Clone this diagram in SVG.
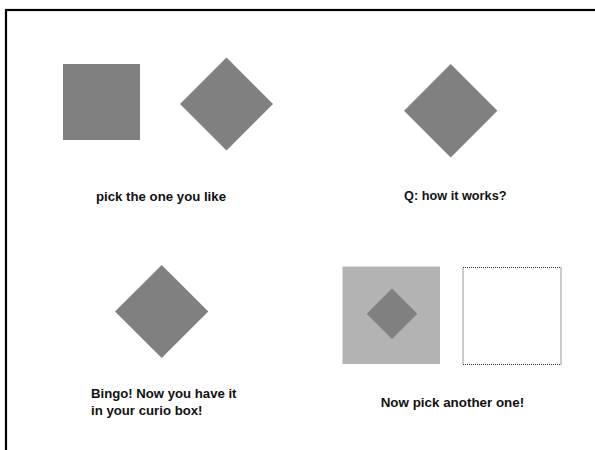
<svg xmlns="http://www.w3.org/2000/svg" width="595" height="450" viewBox="0 0 595 450">
<style>
.shape{fill:#808080}
.light{fill:#b3b3b3}
.lbl{font-family:"Liberation Sans",Arial,sans-serif;font-weight:bold;font-size:12.5px;fill:#111}
</style>
<rect x="0" y="0" width="595" height="450" fill="#fff"/>
<rect x="6" y="10" width="600" height="450" fill="none" stroke="#000" stroke-width="2.2"/>
<g id="square1"><rect class="shape" x="63" y="64" width="77" height="76"/></g>
<g id="diamond1"><polygon class="shape" points="226.5,57.5 273,104 226.5,150.5 180,104"/></g>
<g id="label1"><text class="lbl" x="96" y="200.5" textLength="130" lengthAdjust="spacingAndGlyphs">pick the one you like</text></g>
<g id="diamond2"><polygon class="shape" points="450.7,64 497.4,110.7 450.7,157.4 404,110.7"/></g>
<g id="label2"><text class="lbl" x="404" y="199.5" textLength="102.5" lengthAdjust="spacingAndGlyphs">Q: how it works?</text></g>
<g id="diamond3"><polygon class="shape" points="161.7,265 208.3,311.5 161.7,358 115,311.5"/></g>
<g id="label3"><text class="lbl" x="91" y="398.3" textLength="145.5" lengthAdjust="spacingAndGlyphs">Bingo! Now you have it</text><text class="lbl" x="91" y="415" textLength="111.5" lengthAdjust="spacingAndGlyphs">in your curio box!</text></g>
<g id="box"><rect class="light" x="342.5" y="266.5" width="97.5" height="97.5"/><polygon class="shape" points="392,288.4 417.3,313.7 392,339 366.7,313.7"/></g>
<g id="emptybox"><rect x="463" y="267.5" width="98" height="97" fill="none" stroke="#333" stroke-width="1" stroke-dasharray="1,1"/></g>
<g id="label4"><text class="lbl" x="380.7" y="407.3" textLength="143.5" lengthAdjust="spacingAndGlyphs">Now pick another one!</text></g>
<g id="connectors"></g>
</svg>
